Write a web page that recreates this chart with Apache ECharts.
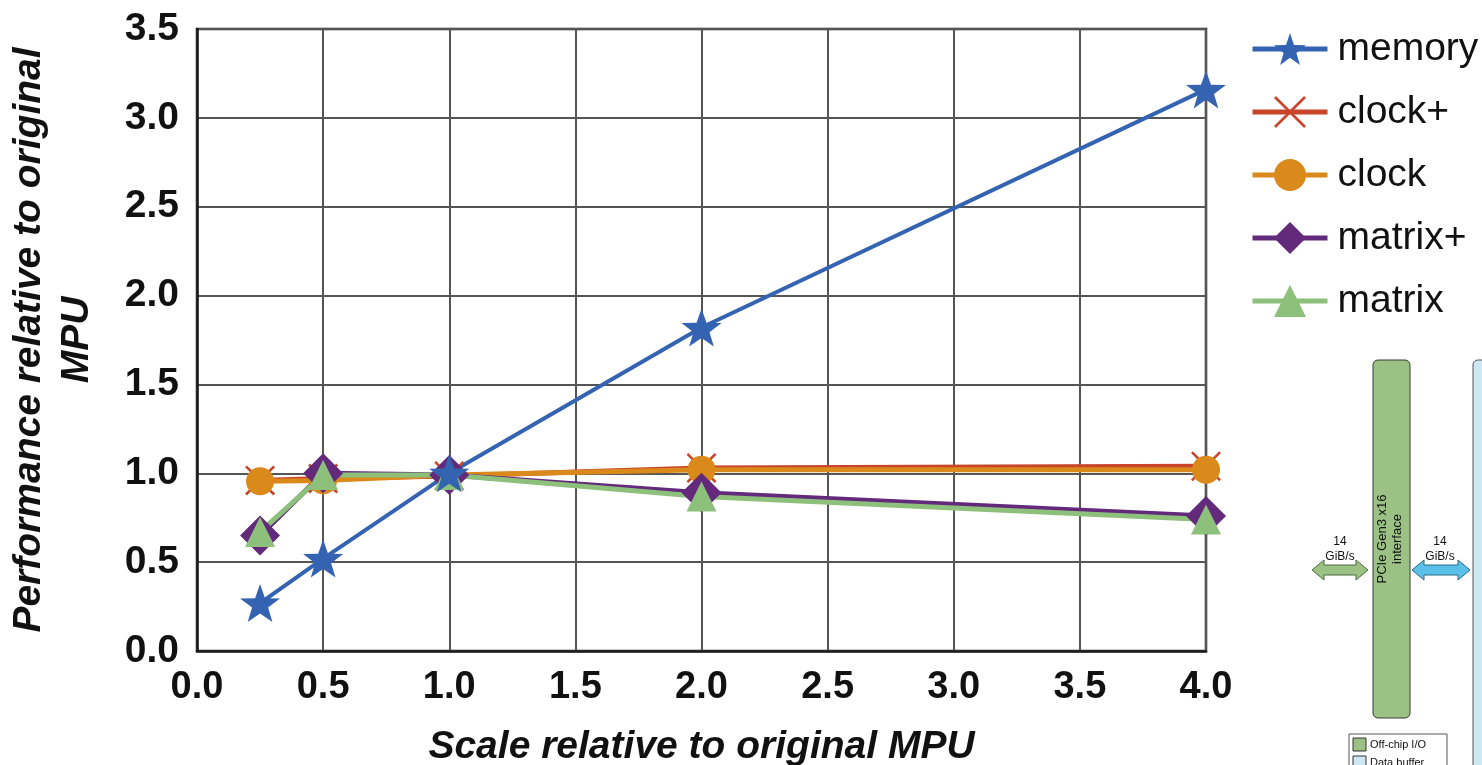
<!DOCTYPE html>
<html><head><meta charset="utf-8">
<script src="https://cdn.jsdelivr.net/npm/echarts@6/dist/echarts.min.js"></script>
<style>html,body{margin:0;padding:0;background:#fff}#c{width:1482px;height:765px}</style>
</head><body><div id="c"></div>
<script>
// ---- data ----
const scales = [0.25, 0.5, 1.0, 2.0, 4.0];
const memory = [0.27, 0.52, 1.0, 1.82, 3.16];
const clockPlus = [0.96, 0.97, 0.985, 1.03, 1.04];
const clock = [0.955, 0.96, 0.99, 1.02, 1.02];
const matrixPlus = [0.65, 1.0, 0.99, 0.89, 0.76];
const matrix = [0.67, 0.99, 0.99, 0.87, 0.74];
const legendNames = ['memory', 'clock+', 'clock', 'matrix+', 'matrix'];
const xTitle = 'Scale relative to original MPU';
const yTitle = 'Performance relative to original\nMPU';

const FONT = "'Liberation Sans', Arial, Helvetica, sans-serif";
const X_PATH = 'path://M0,6 L6,0 L50,44 L94,0 L100,6 L56,50 L100,94 L94,100 L50,56 L6,100 L0,94 L44,50 Z';
const STAR_PATH = 'path://M50,0 L61.76,33.82 L97.55,34.55 L69.02,56.18 L79.39,90.45 L50,70 L20.61,90.45 L30.98,56.18 L2.45,34.55 L38.24,33.82 Z';

function pairs(ys) { return scales.map((x, i) => [x, ys[i]]); }
function mk(name, ys, color, symbol, size, width) {
  return {
    name, type: 'line', data: pairs(ys), symbol, symbolSize: size, symbolKeepAspect: true,
    lineStyle: { color, width }, itemStyle: { color },
    emphasis: { disabled: true }, z: 2
  };
}

const chart = echarts.init(document.getElementById('c'));
chart.setOption({
  animation: false,
  backgroundColor: '#fff',
  grid: { left: 197, right: 276, top: 29, bottom: 114, outerBoundsMode: 'none', containLabel: false,
          show: true, borderColor: '#1a1a1a', borderWidth: 2.5, backgroundColor: 'transparent' },
  xAxis: {
    type: 'value', min: 0, max: 4, interval: 0.5,
    name: xTitle, nameLocation: 'middle', nameGap: 77,
    nameTextStyle: { fontFamily: FONT, fontSize: 39, fontWeight: 'bold', fontStyle: 'italic', color: '#111' },
    axisLine: { show: true, lineStyle: { color: '#1a1a1a', width: 2.5 } },
    axisTick: { show: false },
    axisLabel: { fontFamily: FONT, fontSize: 38, fontWeight: 'bold', color: '#111', margin: 18, formatter: v => v.toFixed(1) },
    splitLine: { show: true, lineStyle: { color: '#555', width: 2 } }
  },
  yAxis: {
    type: 'value', min: 0, max: 3.5, interval: 0.5,
    name: yTitle, nameLocation: 'middle', nameGap: 96, nameRotate: 90,
    nameTextStyle: { fontFamily: FONT, fontSize: 39, fontWeight: 'bold', fontStyle: 'italic', color: '#111', lineHeight: 48, align: 'center' },
    axisLine: { show: true, lineStyle: { color: '#1a1a1a', width: 2.5 } },
    axisTick: { show: false },
    axisLabel: { fontFamily: FONT, fontSize: 39, fontWeight: 'bold', color: '#111', margin: 18, formatter: v => v.toFixed(1) },
    splitLine: { show: true, lineStyle: { color: '#555', width: 2 } }
  },
  legend: {
    data: legendNames, orient: 'vertical', left: 1245, top: 22,
    itemWidth: 75, itemHeight: 40, itemGap: 19,
    lineStyle: { width: 5 },
    textStyle: { fontFamily: FONT, fontSize: 39, color: '#111', lineHeight: 44, padding: [0, 0, 0, 5] },
    selectedMode: false
  },
  series: [
    mk('clock+', clockPlus, '#c8452a', X_PATH, 30, 5),
    mk('clock', clock, '#da8a1b', 'circle', 28, 5),
    mk('matrix+', matrixPlus, '#632a7c', 'diamond', 40, 5),
    mk('matrix', matrix, '#8dc07b', 'triangle', 30, 5),
    mk('memory', memory, '#3463b2', STAR_PATH, 40, 4)
  ],
  graphic: [
    // cropped block diagram fragment on the right
    { type: 'rect', shape: { x: 1473, y: 360, width: 40, height: 420, r: 5 }, style: { fill: '#cde8f4', stroke: '#555', lineWidth: 1 } },
    { type: 'rect', shape: { x: 1373, y: 360, width: 37, height: 358, r: 5 }, style: { fill: '#9cc184', stroke: '#3a3a3a', lineWidth: 1 } },
    { type: 'text', x: 1390, y: 539, rotation: Math.PI / 2,
      style: { text: 'PCIe Gen3 x16\ninterface', fontFamily: FONT, fontSize: 13, lineHeight: 15, fill: '#111', align: 'center', verticalAlign: 'middle' } },
    { type: 'polygon', shape: { points: [[1312,570],[1324,560],[1324,565],[1356,565],[1356,560],[1368,570],[1356,580],[1356,575],[1324,575],[1324,580]] },
      style: { fill: '#9cc184', stroke: '#4a6a3a', lineWidth: 1 } },
    { type: 'polygon', shape: { points: [[1412,570],[1424,560],[1424,565],[1458,565],[1458,560],[1470,570],[1458,580],[1458,575],[1424,575],[1424,580]] },
      style: { fill: '#5bc0e8', stroke: '#2a6a8a', lineWidth: 1 } },
    { type: 'text', x: 1340, y: 549, style: { text: '14\nGiB/s', fontFamily: FONT, fontSize: 12, lineHeight: 15, fill: '#111', align: 'center', verticalAlign: 'middle' } },
    { type: 'text', x: 1440, y: 549, style: { text: '14\nGiB/s', fontFamily: FONT, fontSize: 12, lineHeight: 15, fill: '#111', align: 'center', verticalAlign: 'middle' } },
    { type: 'rect', shape: { x: 1349, y: 734, width: 98, height: 50 }, style: { fill: '#fff', stroke: '#555', lineWidth: 1 } },
    { type: 'rect', shape: { x: 1353, y: 738, width: 13, height: 13 }, style: { fill: '#9cc184', stroke: '#333', lineWidth: 1 } },
    { type: 'text', x: 1370, y: 745, style: { text: 'Off-chip I/O', fontFamily: FONT, fontSize: 11, fill: '#111', verticalAlign: 'middle' } },
    { type: 'rect', shape: { x: 1353, y: 756, width: 13, height: 13 }, style: { fill: '#cde8f4', stroke: '#333', lineWidth: 1 } },
    { type: 'text', x: 1370, y: 763, style: { text: 'Data buffer', fontFamily: FONT, fontSize: 11, fill: '#111', verticalAlign: 'middle' } }
  ]
});
</script>
</body></html>
